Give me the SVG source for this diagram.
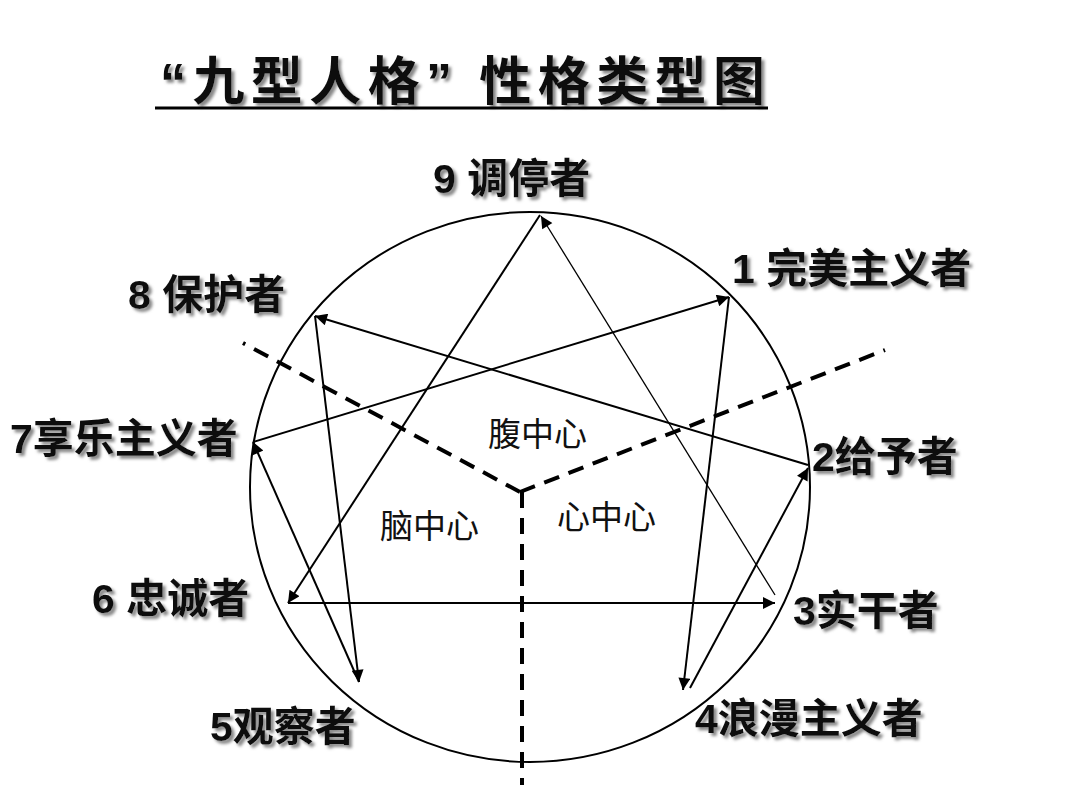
<svg xmlns="http://www.w3.org/2000/svg" width="1080" height="810" viewBox="0 0 1080 810">
<defs>
<marker id="a" viewBox="0 0 10 10" refX="10" refY="5" markerWidth="16" markerHeight="12" orient="auto" markerUnits="userSpaceOnUse"><path d="M0,0 L10,5 L0,10 z" fill="#000"/></marker>
<filter id="sh" x="-10%" y="-10%" width="130%" height="140%"><feDropShadow dx="3" dy="3" stdDeviation="1.5" flood-color="#888"/></filter>
</defs>
<style>
.l{font-family:"Liberation Sans","Noto Sans CJK SC",sans-serif;font-weight:bold;font-size:41px;fill:#111;filter:url(#sh)}
.c{font-family:"Liberation Sans","Noto Sans CJK SC",sans-serif;font-size:33px;fill:#111}
.e{stroke:#000;stroke-width:2;fill:none;marker-end:url(#a)}
.d{stroke:#000;stroke-width:4;stroke-dasharray:16,10;fill:none}
</style>
<rect width="1080" height="810" fill="#fff"/>
<g id="title"><text x="160" y="100" textLength="605" style="font-family:'Liberation Sans','Noto Sans CJK SC',sans-serif;font-weight:bold;font-size:52px;fill:#111;filter:url(#sh)">“九型人格” 性格类型图</text>
<line x1="155" y1="108" x2="768" y2="108" stroke="#000" stroke-width="3"/></g>
<g id="circle"><ellipse cx="530" cy="487" rx="280" ry="275" fill="none" stroke="#000" stroke-width="2"/></g>
<g id="connectors">
<path class="d" d="M520,492 L243,343"/>
<path class="d" d="M520,492 L885,350"/>
<path class="d" d="M522,492 L522,785"/>
<path class="e" d="M540,215 L288,603"/>
<path class="e" style="stroke-width:1.3" d="M775,595 L541,216"/>
<path class="e" d="M288,603 L775,603"/>
<path class="e" d="M808,465 L315,316"/>
<path class="e" d="M315,316 L359,682"/>
<path class="e" d="M359,682 L253,442"/>
<path class="e" d="M253,442 L729,297"/>
<path class="e" d="M729,297 L683,690"/>
<path class="e" d="M690,688 L808,468"/>
</g>
<g id="n9"><text class="l" x="433" y="193">9 调停者</text></g>
<g id="n1"><text class="l" x="732" y="283">1 完美主义者</text></g>
<g id="n8"><text class="l" x="128" y="309">8 保护者</text></g>
<g id="n7"><text class="l" x="10" y="453">7享乐主义者</text></g>
<g id="n2"><text class="l" x="812" y="471">2给予者</text></g>
<g id="n6"><text class="l" x="92" y="613">6 忠诚者</text></g>
<g id="n3"><text class="l" x="793" y="625">3实干者</text></g>
<g id="n5"><text class="l" x="210" y="741">5观察者</text></g>
<g id="n4"><text class="l" x="695" y="733">4浪漫主义者</text></g>
<g id="c1"><text class="c" x="488" y="446">腹中心</text></g>
<g id="c2"><text class="c" x="380" y="538">脑中心</text></g>
<g id="c3"><text class="c" x="557" y="529">心中心</text></g>
</svg>
